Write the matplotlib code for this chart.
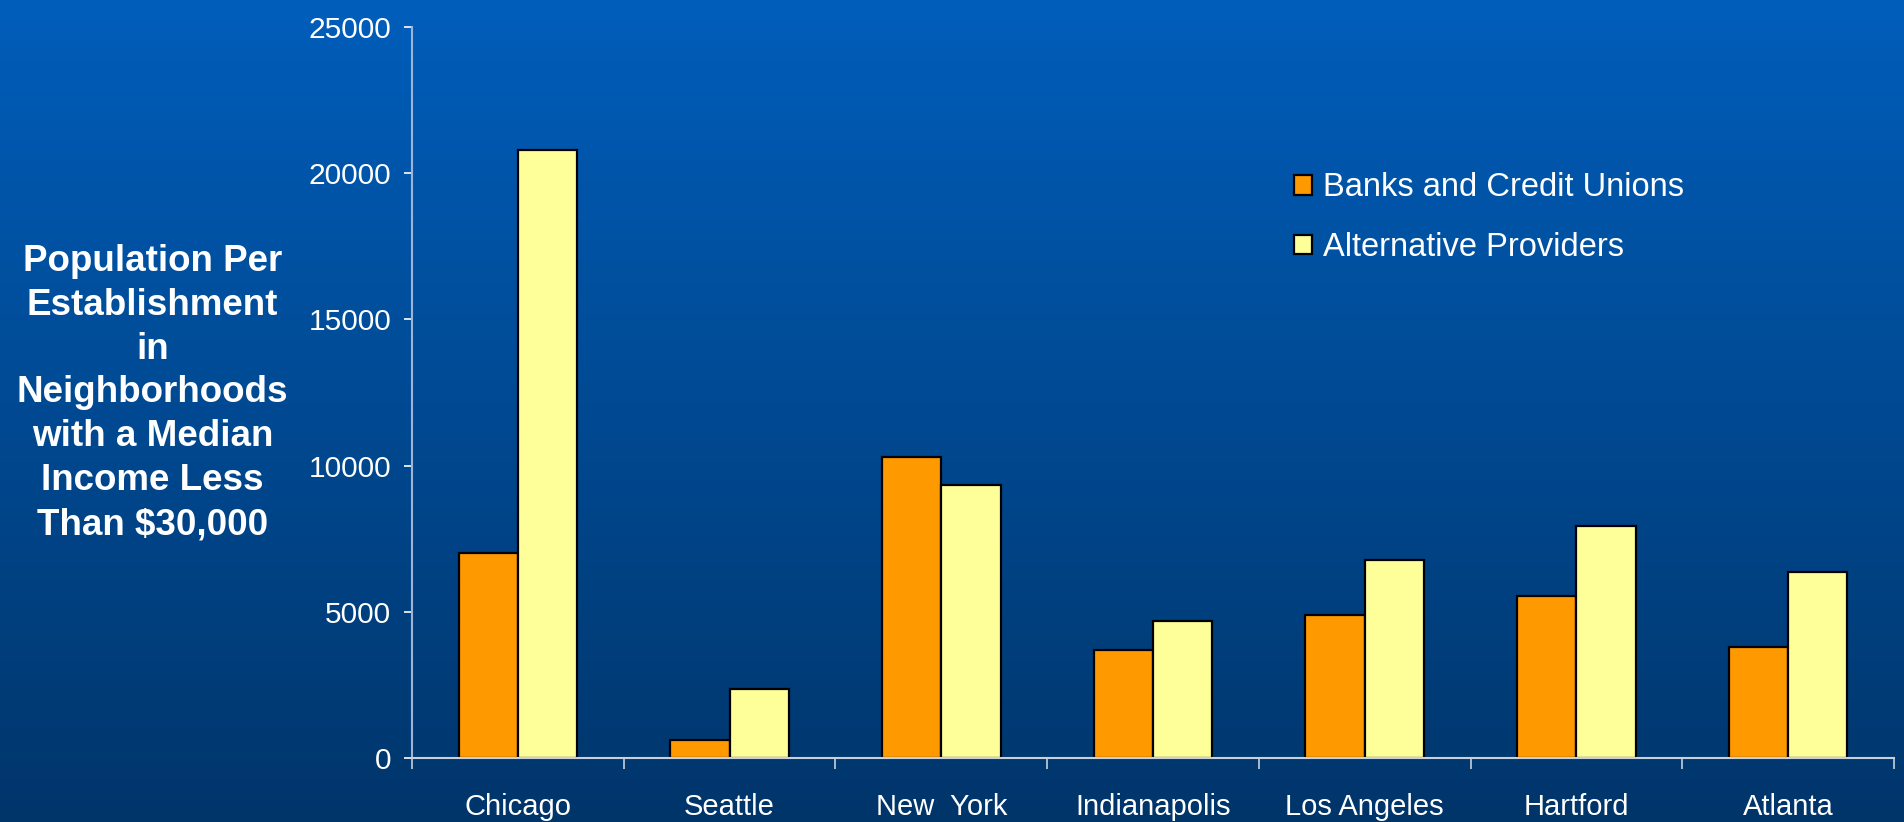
import numpy as np
import matplotlib
matplotlib.use("Agg")
import matplotlib.pyplot as plt
from matplotlib.colors import LinearSegmentedColormap
from matplotlib.patches import Patch

plt.rcParams['font.family'] = ['Liberation Sans', 'DejaVu Sans']

cities = ['Chicago', 'Seattle', 'New  York', 'Indianapolis', 'Los Angeles', 'Hartford', 'Atlanta']
banks = [7000, 600, 10300, 3700, 4900, 5550, 3780]
alternative = [20800, 2350, 9350, 4700, 6780, 7950, 6350]
series_names = ['Banks and Credit Unions', 'Alternative Providers']
yticks = [0, 5000, 10000, 15000, 20000, 25000]

fig = plt.figure(figsize=(19.04, 8.22), dpi=100)

# blue slide background, lighter at the top
bg = fig.add_axes([0, 0, 1, 1], zorder=-10)
grad = LinearSegmentedColormap.from_list('slide', ['#00356A', '#005EBB'])
bg.imshow(np.linspace(0, 1, 256).reshape(-1, 1), cmap=grad, aspect='auto',
          origin='lower', extent=[0, 1, 0, 1])
bg.axis('off')

ax = fig.add_axes([0.2164, 0.0779, 0.7783, 0.8891])
ax.set_facecolor('none')

x = np.arange(len(cities))
w = 0.28
ax.bar(x - w / 2, banks, w, color='#FF9900', edgecolor='black', linewidth=1.6)
ax.bar(x + w / 2, alternative, w, color='#FFFF99', edgecolor='black', linewidth=1.6)

ax.set_xlim(-0.5, len(cities) - 0.5)
ax.set_ylim(0, 25000)
ax.set_yticks(yticks)
ax.set_yticklabels([str(v) for v in yticks])

ax.set_xticks(x)
ax.set_xticklabels(cities)
ax.set_xticks(np.arange(len(cities) + 1) - 0.5, minor=True)
ax.tick_params(axis='x', which='major', length=0, pad=25, labelsize=21, colors='white')
ax.tick_params(axis='x', which='minor', length=8, width=1.2, color='#C8D0DC', direction='out')
ax.tick_params(axis='y', length=6, width=1.2, color='white', pad=9, labelsize=21.5,
               labelcolor='white', direction='out')

for s in ['top', 'right']:
    ax.spines[s].set_visible(False)
ax.spines['left'].set_color('#9DB3D8')
ax.spines['left'].set_linewidth(1.5)
ax.spines['bottom'].set_color('#C8D0DC')
ax.spines['bottom'].set_linewidth(1.5)

fig.text(0.08, 0.522,
         'Population Per\nEstablishment\nin\nNeighborhoods\nwith a Median\nIncome Less\nThan $30,000',
         ha='center', va='center', color='white', fontsize=26.5, fontweight='bold',
         linespacing=1.33)

handles = [Patch(facecolor='#FF9900', edgecolor='black', linewidth=1.6),
           Patch(facecolor='#FFFF99', edgecolor='black', linewidth=1.6)]
leg = fig.legend(handles, series_names, loc='upper left', bbox_to_anchor=(0.664, 0.826),
                 frameon=False, fontsize=23.5, handlelength=0.55, handleheight=0.55,
                 handletextpad=0.35, labelspacing=0.88)
for t in leg.get_texts():
    t.set_color('white')

fig.savefig('out.png', dpi=100)
